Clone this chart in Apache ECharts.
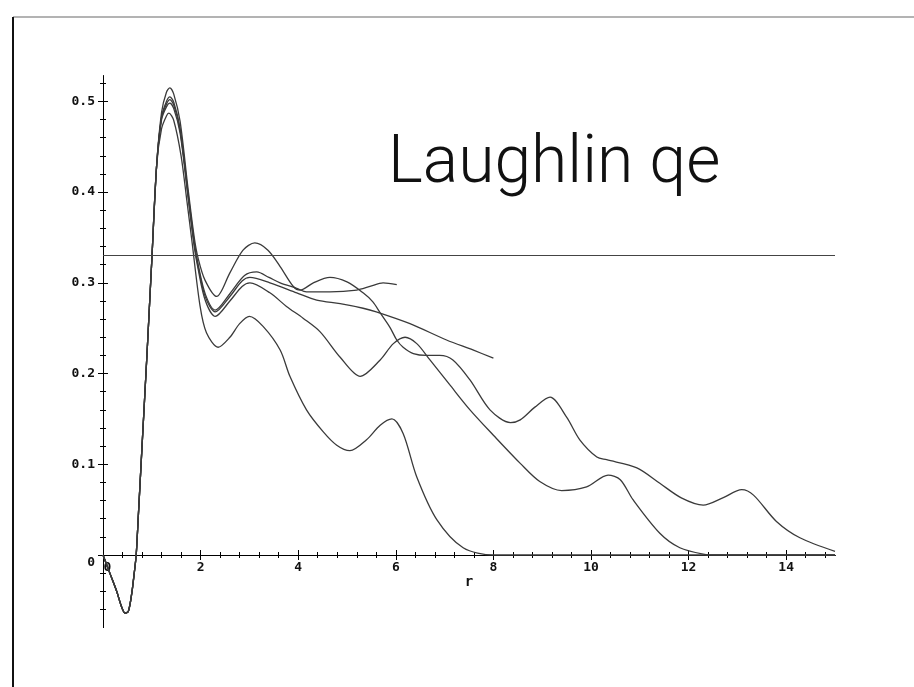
<!DOCTYPE html>
<html><head><meta charset="utf-8">
<script src="https://cdn.jsdelivr.net/npm/echarts@6/dist/echarts.min.js"></script>
<style>html,body{margin:0;padding:0;background:#fff}#c{width:914px;height:687px}</style>
</head><body><div id="c"></div>
<script>
// shared rising part (all curves coincide here)
const riseR = [0, 0.14, 0.28, 0.38, 0.45, 0.52, 0.59, 0.64, 0.68, 0.72, 0.8, 0.9, 1.0, 1.1];
const riseV = [0, -0.02, -0.04, -0.057, -0.064, -0.062, -0.042, -0.02, 0, 0.039, 0.12, 0.22, 0.325, 0.43];

const curveQ = [[1.2,0.488],[1.3,0.510],[1.37,0.515],[1.45,0.508],[1.58,0.478],[1.74,0.405],[1.87,0.35],[1.95,0.327],[2.09,0.303],[2.33,0.285],[2.6,0.311],[2.87,0.336],[3.11,0.344],[3.38,0.336],[3.63,0.318],[3.9,0.296],[4.04,0.292],[4.31,0.3],[4.65,0.306],[5.0,0.301],[5.33,0.289],[5.53,0.279],[5.68,0.267],[5.88,0.251],[6.02,0.237],[6.15,0.229],[6.36,0.222],[6.63,0.22],[6.9,0.22],[7.17,0.215],[7.52,0.193],[7.93,0.16],[8.35,0.146],[8.55,0.149],[8.85,0.163],[9.16,0.174],[9.5,0.152],[9.77,0.127],[10.12,0.108],[10.32,0.105],[10.94,0.096],[11.41,0.079],[11.85,0.063],[12.3,0.055],[12.7,0.063],[13.09,0.072],[13.33,0.066],[13.8,0.037],[14.28,0.019],[15,0.004]];
const curveE = [[1.2,0.483],[1.3,0.5],[1.37,0.505],[1.45,0.499],[1.58,0.47],[1.74,0.4],[1.87,0.345],[1.95,0.32],[2.1,0.287],[2.3,0.27],[2.6,0.288],[2.9,0.308],[3.15,0.312],[3.4,0.306],[3.63,0.3],[3.97,0.294],[4.17,0.29],[4.65,0.29],[5.2,0.292],[5.47,0.296],[5.74,0.3],[6.02,0.298]];
const curveF = [[1.2,0.482],[1.3,0.497],[1.37,0.502],[1.45,0.496],[1.58,0.468],[1.74,0.398],[1.87,0.343],[1.95,0.318],[2.1,0.284],[2.3,0.268],[2.6,0.285],[2.85,0.302],[3.01,0.306],[3.42,0.3],[3.97,0.289],[4.38,0.281],[4.86,0.277],[5.33,0.272],[5.6,0.268],[6.29,0.255],[7.04,0.237],[7.58,0.226],[8.0,0.217]];
const curveP = [[1.2,0.48],[1.3,0.494],[1.37,0.498],[1.45,0.492],[1.58,0.465],[1.74,0.396],[1.87,0.34],[1.95,0.315],[2.1,0.28],[2.3,0.263],[2.6,0.28],[2.85,0.296],[3.01,0.3],[3.42,0.289],[3.76,0.274],[4.1,0.261],[4.45,0.246],[4.86,0.218],[5.27,0.197],[5.68,0.215],[5.95,0.233],[6.19,0.24],[6.43,0.233],[6.7,0.215],[7.1,0.188],[7.52,0.16],[8.0,0.132],[8.55,0.101],[8.95,0.081],[9.4,0.071],[9.91,0.075],[10.35,0.088],[10.6,0.083],[10.86,0.061],[11.41,0.024],[11.82,0.008],[12.3,0.001],[12.6,0],[15,0]];
const curveA = [[1.2,0.47],[1.3,0.484],[1.35,0.487],[1.45,0.479],[1.6,0.44],[1.72,0.39],[1.82,0.347],[1.99,0.274],[2.12,0.245],[2.36,0.229],[2.6,0.24],[2.8,0.255],[3.0,0.263],[3.28,0.252],[3.63,0.226],[3.83,0.197],[4.17,0.16],[4.51,0.136],[4.79,0.121],[5.06,0.115],[5.4,0.127],[5.68,0.143],[5.92,0.15],[6.15,0.134],[6.43,0.086],[6.84,0.039],[7.38,0.008],[8.0,0],[15,0]];

const thirdLevel = 0.333;

const xMajor = [0, 2, 4, 6, 8, 10, 12, 14];
const yMajor = [0, 0.1, 0.2, 0.3, 0.4, 0.5];
const xMinor = []; for (let i = 0; i <= 37; i++) xMinor.push(+(i * 0.4).toFixed(2));
const yMinor = []; for (let i = 1; i <= 26; i++) yMinor.push(+(i * 0.02).toFixed(2));
const yNegMinor = [-0.06, -0.04, -0.02];

function full(tail) {
  const d = riseR.map((r, i) => [r, riseV[i]]);
  return d.concat(tail);
}

const monoFont = 'DejaVu Sans Mono';
const lblStyle = { fontFamily: monoFont, fontWeight: 'bold', fontSize: 13, color: '#111' };
const axLine = { show: true, onZero: false, lineStyle: { color: '#000', width: 1 } };

function xAx(grid, ticks, inside, len, label, show) {
  return {
    type: 'value', min: 0, max: 15, position: 'bottom', gridIndex: grid, show: show !== false,
    axisLine: axLine, splitLine: { show: false },
    axisTick: { show: true, customValues: ticks, inside: inside, length: len, lineStyle: { color: '#000', width: 1 } },
    axisLabel: label ? Object.assign({
      customValues: xMajor, margin: 6,
      formatter: v => v === 0 ? '{z|0}' : String(v),
      rich: { z: Object.assign({ padding: [0, 0, 0, 9] }, lblStyle) }
    }, lblStyle) : { show: false },
    name: label ? 'r' : '', nameLocation: 'middle', nameGap: 20, nameMoveOverlap: false,
    nameTextStyle: Object.assign({}, lblStyle, { fontSize: 14 })
  };
}
function yAx(grid, min, max, ticks, inside, len, label) {
  return {
    type: 'value', min: min, max: max, position: 'left', gridIndex: grid,
    axisLine: axLine, splitLine: { show: false },
    axisTick: { show: true, customValues: ticks, inside: inside, length: len, lineStyle: { color: '#000', width: 1 } },
    axisLabel: label ? Object.assign({
      customValues: yMajor, margin: 8,
      formatter: v => v === 0 ? '{z|0}' : v.toFixed(1),
      rich: { z: Object.assign({ padding: [16, 0, 0, 0] }, lblStyle) }
    }, lblStyle) : { show: false }
  };
}

const lineStyle = { color: '#3a3a3a', width: 1.3 };
function ser(data, extra) {
  return Object.assign({
    type: 'line', data: data, showSymbol: false, smooth: 0.3, xAxisIndex: 0, yAxisIndex: 0,
    clip: false, lineStyle: lineStyle, silent: true, animation: false
  }, extra || {});
}

const chart = echarts.init(document.getElementById('c'), null, { renderer: 'canvas' });
chart.setOption({
  backgroundColor: '#fff',
  animation: false,
  title: {
    text: 'Laughlin qe', left: 383, top: 127,
    textStyle: { fontFamily: 'Roboto', fontWeight: 300, fontSize: 66, color: '#111' }
  },
  grid: [
    { left: 103, right: 79, top: 76, bottom: 132 },
    { left: 103, right: 79, top: 555, bottom: 59.4 }
  ],
  xAxis: [
    xAx(0, xMinor, true, 3, true), xAx(0, xMinor, false, 3, false),
    xAx(0, xMajor, true, 5, false), xAx(0, xMajor, false, 5, false),
    xAx(1, [], false, 0, false, false)
  ],
  yAxis: [
    yAx(0, 0, 0.528, yMinor, true, 3, true), yAx(0, 0, 0.528, yMinor, false, 3, false),
    yAx(0, 0, 0.528, yMajor, true, 5, false), yAx(0, 0, 0.528, yMajor, false, 5, false),
    yAx(1, -0.08, 0, yNegMinor, true, 3, false), yAx(1, -0.08, 0, yNegMinor, false, 3, false)
  ],
  graphic: [
    { type: 'line', shape: { x1: 13, y1: 17, x2: 914, y2: 17 }, style: { stroke: '#9a9a9a', lineWidth: 1.5 }, silent: true },
    { type: 'line', shape: { x1: 13, y1: 17, x2: 13, y2: 687 }, style: { stroke: '#111', lineWidth: 2 }, silent: true }
  ],
  series: [
    ser(full(curveQ), {
      markLine: {
        silent: true, symbol: ['none', 'none'], label: { show: false },
        lineStyle: { color: '#444', width: 1.2, type: 'solid' },
        data: [{ yAxis: thirdLevel }]
      }
    }),
    ser(full(curveE)),
    ser(full(curveF)),
    ser(full(curveP)),
    ser(full(curveA))
  ]
});
</script></body></html>
